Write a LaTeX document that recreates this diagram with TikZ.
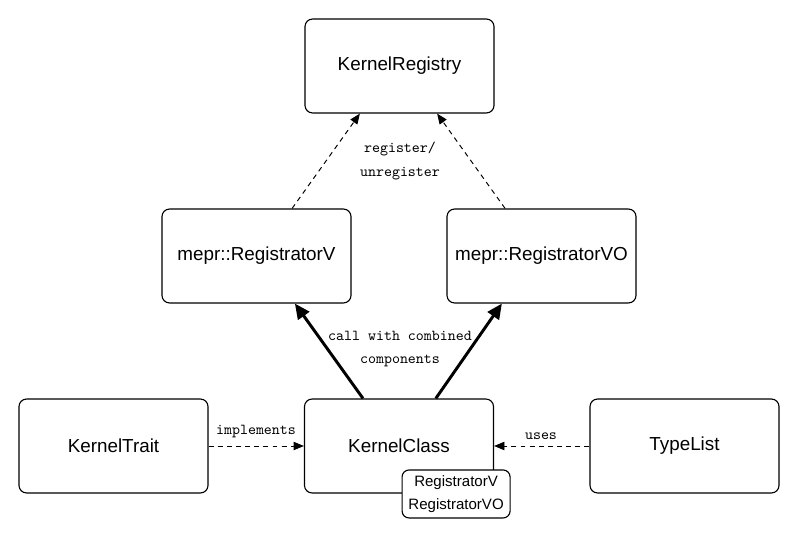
\documentclass[tikz,border=0pt]{standalone}
\usepackage{fontspec}
\setmainfont{Liberation Sans}
\usepackage{tikz}
\usetikzlibrary{arrows.meta,positioning}

\begin{document}
\begin{tikzpicture}[
  x=0.025cm,y=-0.025cm,
  block/.style={rectangle,rounded corners=5.5pt,draw,line width=0.8pt,fill=white,minimum width=4.725cm,minimum height=2.35cm,font=\fontsize{13.4}{16}\selectfont},
  tag/.style={rectangle,rounded corners=5pt,draw,line width=0.8pt,fill=white,minimum width=2.7cm,minimum height=1.2cm,align=center,inner sep=1pt,font=\fontsize{10.7}{16.4}\selectfont},
  label/.style={font=\ttfamily\fontsize{10.8}{16.4}\selectfont,align=center},
  dep/.style={draw,line width=0.7pt,dash pattern=on 3.5pt off 3pt,-{Triangle[length=2.6mm,width=2.1mm]}},
  call/.style={draw,line width=2.1pt,-{Triangle[length=3.8mm,width=3.4mm]}}
]
\useasboundingbox (0,0) rectangle (798,538);
\node[block] (reg) at (399.5,66) {KernelRegistry};
\node[block] (regv) at (256.5,256) {mepr::RegistratorV};
\node[block] (regvo) at (541.5,256) {mepr::RegistratorVO};
\node[block] (trait) at (113.5,446) {KernelTrait};
\node[block] (kclass) at (399,446) {KernelClass};
\node[block] (tlist) at (684.5,446) {TypeList};
\node[tag] (comp) at ([xshift=-0.95cm,yshift=-0.01cm]kclass.south east) {RegistratorV\\RegistratorVO};
% register / unregister
\draw[dep] ([xshift=0.89cm]regv.north) -- ([xshift=-0.99cm]reg.south);
\draw[dep] ([xshift=-0.91cm]regvo.north) -- ([xshift=0.94cm]reg.south);
\node[label] (lreg) at (400,161) {register/\\unregister};
% combined components
\draw[call] ([xshift=-0.9cm]kclass.north) -- ([xshift=0.96cm]regv.south);
\draw[call] ([xshift=0.92cm]kclass.north) -- ([xshift=-0.99cm]regvo.south);
\node[label] (lcall) at (400,349.5) {call with combined\\components};
% side dependencies
\draw[dep] (trait) -- (kclass);
\draw[dep] (tlist) -- (kclass);
\node[label] (limpl) at (256,432) {implements};
\node[label] (luses) at (541,436) {uses};
\end{tikzpicture}
\end{document}
